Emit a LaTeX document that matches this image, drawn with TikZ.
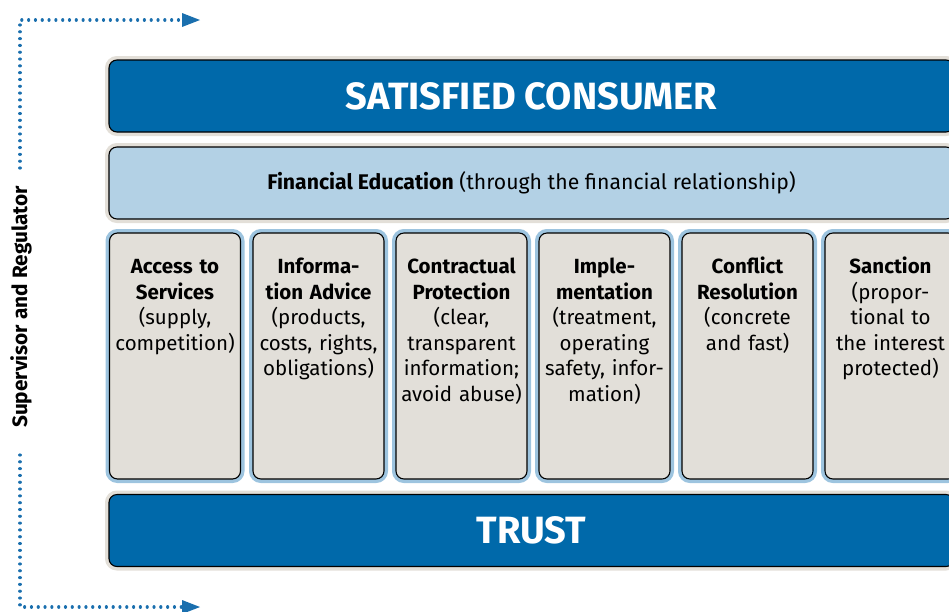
\documentclass[tikz,border=0pt]{standalone}
\usepackage{fontspec}
\setmainfont{Fira Sans}
\usetikzlibrary{arrows.meta}
\definecolor{dblue}{HTML}{0069AA}
\definecolor{lblue}{HTML}{B3D1E5}
\definecolor{beige}{HTML}{E3DFD8}
\definecolor{pgray}{HTML}{E2DFD9}
\definecolor{pborder}{HTML}{9DC4DF}
\definecolor{dotblue}{HTML}{1A6FAE}
\begin{document}
\begin{tikzpicture}[x=1pt,y=-1pt,
  band/.style={draw=black, line width=1.1pt, rounded corners=8pt,
    preaction={draw=beige, line width=8pt, rounded corners=8pt},
    minimum width=845pt, minimum height=72pt, inner sep=0pt},
  pillar/.style={draw=black, line width=1.1pt, fill=pgray, rounded corners=8pt,
    preaction={draw=pborder, line width=8pt, rounded corners=8pt},
    minimum width=131pt, minimum height=246pt, inner sep=0pt},
  ptext/.style={anchor=north, text width=135pt, align=center, inner sep=0pt,
    font=\fontsize{20.5}{25.5}\selectfont, execute at begin node=\strut},
  dotline/.style={dotblue, line width=3.2pt, line cap=round, dash pattern=on 0.01pt off 6.8pt},
]
\useasboundingbox (0,0) rectangle (949,611);
\begin{scope}
\clip (0,0) rectangle (949,611);
% bands
\node[band, fill=dblue, text=white, font=\bfseries\fontsize{38}{38}\selectfont] (sat) at (531.5,96) {SATISFIED CONSUMER};
\node[band, fill=lblue, font=\fontsize{21.2}{24}\selectfont] (fin) at (531.5,183) {\textbf{Financial Education} (through the financial relationship)};
\node[band, fill=dblue, text=white, font=\bfseries\fontsize{38}{38}\selectfont] (trust) at (531.5,530.5) {TRUST};
% pillars
\node[pillar] (p1) at (175,356) {};
\node[pillar] (p2) at (318.5,356) {};
\node[pillar] (p3) at (461.5,356) {};
\node[pillar] (p4) at (604.5,356) {};
\node[pillar] (p5) at (747.5,356) {};
\node[pillar] (p6) at (890.5,356) {};
\node[ptext] (t1) at (175,255.5) {\textbf{Access to\\Services}\\(supply,\\competition)};
\node[ptext] (t2) at (318.5,255.5) {\textbf{Informa-\\tion Advice}\\(products,\\costs, rights,\\obligations)};
\node[ptext] (t3) at (461.5,255.5) {\textbf{Contractual\\Protection}\\(clear,\\transparent\\information;\\avoid abuse)};
\node[ptext] (t4) at (604.5,255.5) {\textbf{Imple-\\mentation}\\(treatment,\\operating\\safety, infor-\\mation)};
\node[ptext] (t5) at (747.5,255.5) {\textbf{Conflict\\Resolution}\\(concrete\\and fast)};
\node[ptext] (t6) at (890.5,255.5) {\textbf{Sanction}\\(propor-\\tional to\\the interest\\protected)};
% supervisor
\node[rotate=90, font=\bfseries\fontsize{20.8}{22}\selectfont, inner sep=0pt] (sr) at (21,307) {Supervisor and Regulator};
\coordinate (a1) at (20,168);
\coordinate (c1) at (20,20);
\coordinate (e1) at (200,20);
\coordinate (a2) at (20,455);
\coordinate (c2) at (20,607);
\coordinate (e2) at (200,607);
\draw[dotline] (a1) -- (c1) -- ([xshift=-18pt]e1);
\draw[dotline] (a2) -- (c2) -- ([xshift=-18pt]e2);
\fill[dotblue] (e1) -- ++(-18,-7) -- ++(0,14) -- cycle;
\fill[dotblue] (e2) -- ++(-18,-7) -- ++(0,14) -- cycle;
\end{scope}
\end{tikzpicture}
\end{document}
